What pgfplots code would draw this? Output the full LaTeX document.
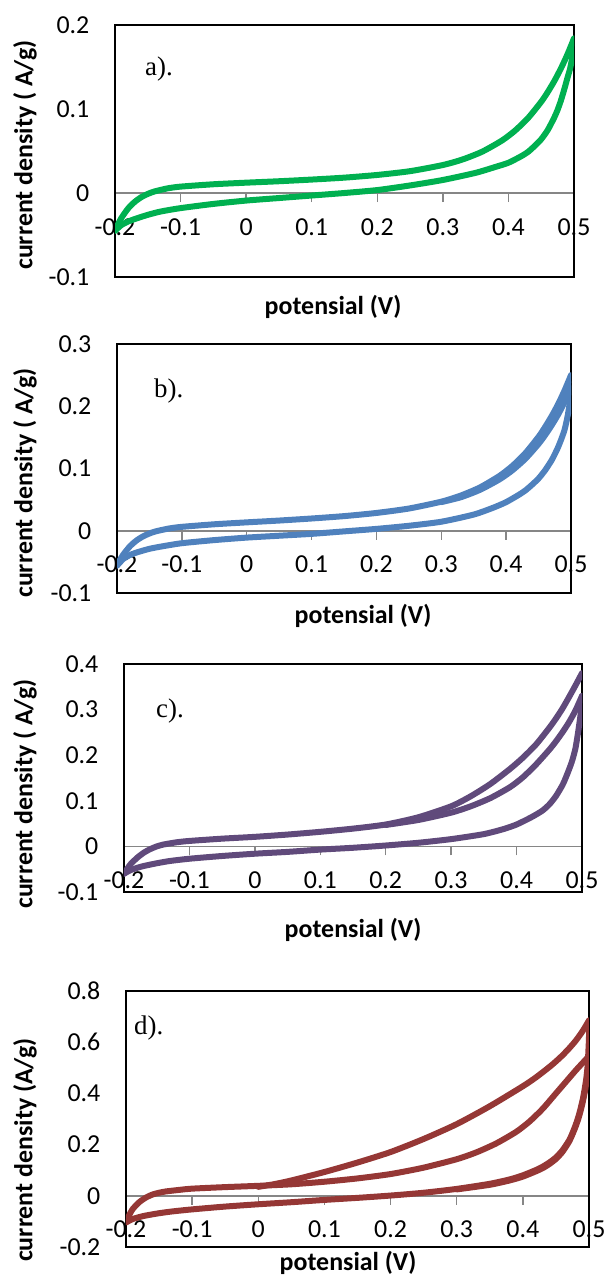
\documentclass[border=0pt]{standalone}
\usepackage{pgfplots}
\pgfplotsset{compat=1.18}
\usepackage{fontspec}
\setmainfont{Carlito}
\newfontfamily\tnr{Liberation Serif}
\definecolor{cA}{RGB}{0,176,80}
\definecolor{cB}{RGB}{79,129,189}
\definecolor{cC}{RGB}{96,74,123}
\definecolor{cD}{RGB}{149,55,53}
\definecolor{zl}{RGB}{134,134,134}
\newcommand{\lab}{\fontsize{26}{30}\selectfont\bfseries}
\pgfplotsset{
 base/.style={scale only axis, xmin=-0.2, xmax=0.5, anchor=south west,
   /pgf/number format/assume math mode=true,
   ticklabel style={font=\fontsize{26}{30}\selectfont}},
 zero/.style={base, axis x line=middle, axis y line=none,
   axis line style={-, zl, line width=1.5bp},
   xtick={-0.2,-0.1,0,0.1,0.2,0.3,0.4,0.5}, tick align=outside, major tick length=9bp,
   xtick style={zl, line width=1.3bp},
   xticklabel style={anchor=base, inner sep=0pt, yshift=-33bp},
   hide obscured x ticks=false, ytick=\empty},
 frame/.style={base, axis line style={black, line width=1.2bp}, xtick=\empty,
   major tick length=0pt, tick style={draw=none},
   yticklabel style={anchor=east, inner sep=0pt, xshift=-25.5bp}, clip=true},
 cv/.style={line width=6bp, line cap=round, line join=round, smooth, tension=0.4, no markers},
}
\begin{document}
\begin{tikzpicture}
\path[use as bounding box] (0,0) rectangle (607bp,-1276bp);
% ---------------- panel a
\begin{axis}[zero, at={(115bp,-277bp)}, width=459bp, height=252bp, ymin=-0.1, ymax=0.2]
\end{axis}
\begin{axis}[frame, at={(115bp,-277bp)}, width=459bp, height=252bp, ymin=-0.1, ymax=0.2, ytick={-0.1,0,0.1,0.2}]
\addplot[cv, cA] coordinates {(-0.2,-0.045) (-0.195,-0.0365) (-0.19,-0.0294) (-0.18,-0.0184) (-0.17,-0.0106) (-0.16,-0.0050) (-0.15,-0.0011) (-0.14,0.0018) (-0.12,0.0055) (-0.1,0.0076) (-0.05,0.0104) (0,0.0123) (0.05,0.0140) (0.1,0.0160) (0.15,0.0183) (0.2,0.0215) (0.25,0.0260) (0.3,0.0333) (0.33,0.0399) (0.36,0.0492) (0.39,0.0624) (0.41,0.0742) (0.43,0.0893) (0.45,0.1086) (0.46,0.1202) (0.47,0.1333) (0.48,0.1482) (0.49,0.1650) (0.5,0.184)};
\addplot[cv, cA] coordinates {(0.5,0.184) (0.499,0.172) (0.497,0.160) (0.494,0.148) (0.49,0.137) (0.485,0.123) (0.48,0.110) (0.475,0.099) (0.47,0.090) (0.46,0.075) (0.45,0.064) (0.44,0.056) (0.43,0.049) (0.42,0.044) (0.4,0.036) (0.38,0.031) (0.35,0.024) (0.3,0.0155) (0.25,0.009) (0.2,0.0035) (0.15,0.0) (0.1,-0.003) (0.05,-0.006) (0,-0.009) (-0.05,-0.013) (-0.1,-0.018) (-0.13,-0.022) (-0.15,-0.026) (-0.17,-0.031) (-0.18,-0.034) (-0.19,-0.038) (-0.2,-0.045)};
\end{axis}
\node[anchor=base west, inner sep=0pt, font=\tnr\fontsize{27}{27}\selectfont] at (145bp,-75bp) {a).};
\node[rotate=90, inner sep=0pt] at (25bp,-155bp) {\lab current density ( A/g)};
\node[anchor=base, inner sep=0pt] at (333bp,-314bp) {\lab potensial (V)};
% ---------------- panel b
\begin{axis}[zero, at={(117bp,-593bp)}, width=454bp, height=249bp, ymin=-0.1, ymax=0.3]
\end{axis}
\begin{axis}[frame, at={(117bp,-593bp)}, width=454bp, height=249bp, ymin=-0.1, ymax=0.3, ytick={-0.1,0,0.1,0.2,0.3}]
\addplot[cv, cB] coordinates {(-0.2,-0.056) (-0.195,-0.0461) (-0.19,-0.0378) (-0.18,-0.0249) (-0.17,-0.0157) (-0.16,-0.0091) (-0.15,-0.0044) (-0.14,-0.0009) (-0.12,0.0036) (-0.1,0.0063) (-0.05,0.0104) (0,0.0135) (0.05,0.0164) (0.1,0.0197) (0.15,0.0235) (0.2,0.0286) (0.25,0.0357) (0.3,0.0467) (0.33,0.0565) (0.36,0.0698) (0.39,0.0883) (0.41,0.1045) (0.43,0.1251) (0.45,0.1510) (0.46,0.1666) (0.47,0.1838) (0.48,0.2030) (0.49,0.2252) (0.5,0.250)};
\addplot[cv, cB] coordinates {(0.3,0.0460) (0.33,0.0538) (0.36,0.0659) (0.39,0.0827) (0.41,0.0974) (0.43,0.1160) (0.45,0.1395) (0.46,0.1535) (0.47,0.1691) (0.48,0.1864) (0.49,0.2065) (0.5,0.229)};
\addplot[cv, cB] coordinates {(0.5,0.235) (0.499,0.215) (0.497,0.198) (0.494,0.180) (0.49,0.162) (0.485,0.147) (0.48,0.134) (0.475,0.123) (0.47,0.113) (0.46,0.097) (0.45,0.084) (0.44,0.074) (0.43,0.065) (0.42,0.058) (0.4,0.046) (0.38,0.037) (0.35,0.026) (0.3,0.0145) (0.25,0.008) (0.2,0.003) (0.15,-0.001) (0.1,-0.005) (0.05,-0.008) (0,-0.011) (-0.05,-0.015) (-0.1,-0.020) (-0.13,-0.025) (-0.15,-0.029) (-0.17,-0.035) (-0.18,-0.039) (-0.19,-0.045) (-0.2,-0.056)};
\end{axis}
\node[anchor=base west, inner sep=0pt, font=\tnr\fontsize{27}{27}\selectfont] at (154bp,-397bp) {b).};
\node[rotate=90, inner sep=0pt] at (25bp,-483bp) {\lab current density ( A/g)};
\node[anchor=base, inner sep=0pt] at (363bp,-623bp) {\lab potensial (V)};
% ---------------- panel c
\begin{axis}[zero, at={(124bp,-892bp)}, width=458bp, height=228bp, ymin=-0.1, ymax=0.4]
\end{axis}
\begin{axis}[frame, at={(124bp,-892bp)}, width=458bp, height=228bp, ymin=-0.1, ymax=0.4, ytick={-0.1,0,0.1,0.2,0.3,0.4}]
\addplot[cv, cC] coordinates {(-0.2,-0.060) (-0.195,-0.049) (-0.19,-0.039) (-0.18,-0.025) (-0.17,-0.014) (-0.16,-0.006) (-0.15,0.000) (-0.14,0.004) (-0.12,0.009) (-0.1,0.012) (-0.05,0.017) (0,0.021) (0.05,0.026) (0.1,0.032) (0.15,0.039) (0.2,0.048) (0.25,0.064) (0.3,0.088) (0.33,0.110) (0.36,0.137) (0.39,0.170) (0.41,0.195) (0.43,0.224) (0.45,0.260) (0.46,0.280) (0.47,0.302) (0.48,0.327) (0.49,0.353) (0.5,0.380)};
\addplot[cv, cC] coordinates {(0.2,0.047) (0.25,0.058) (0.3,0.074) (0.33,0.088) (0.36,0.106) (0.39,0.130) (0.41,0.152) (0.43,0.180) (0.45,0.212) (0.46,0.230) (0.47,0.250) (0.48,0.272) (0.49,0.298) (0.5,0.330)};
\addplot[cv, cC] coordinates {(0.5,0.33) (0.499,0.305) (0.497,0.28) (0.494,0.25) (0.49,0.215) (0.485,0.188) (0.48,0.168) (0.475,0.150) (0.47,0.134) (0.46,0.110) (0.45,0.092) (0.44,0.079) (0.43,0.070) (0.42,0.062) (0.4,0.048) (0.38,0.038) (0.35,0.027) (0.3,0.016) (0.25,0.008) (0.2,0.002) (0.15,-0.003) (0.1,-0.007) (0.05,-0.012) (0,-0.016) (-0.05,-0.021) (-0.1,-0.027) (-0.13,-0.032) (-0.15,-0.037) (-0.17,-0.043) (-0.18,-0.047) (-0.19,-0.052) (-0.2,-0.060)};
\end{axis}
\node[anchor=base west, inner sep=0pt, font=\tnr\fontsize{27}{27}\selectfont] at (156bp,-717bp) {c).};
\node[rotate=90, inner sep=0pt] at (25bp,-794bp) {\lab current density ( A/g)};
\node[anchor=base, inner sep=0pt] at (353bp,-937bp) {\lab potensial (V)};
% ---------------- panel d
\begin{axis}[zero, at={(126bp,-1247bp)}, width=463bp, height=256bp, ymin=-0.2, ymax=0.8]
\end{axis}
\begin{axis}[frame, at={(126bp,-1247bp)}, width=463bp, height=256bp, ymin=-0.2, ymax=0.8, ytick={-0.2,0,0.2,0.4,0.6,0.8}]
\addplot[cv, cD] coordinates {(0,0.035) (0.025,0.046) (0.05,0.060) (0.1,0.093) (0.15,0.130) (0.2,0.171) (0.25,0.222) (0.3,0.280) (0.35,0.350) (0.4,0.428) (0.42,0.463) (0.44,0.503) (0.45,0.525) (0.46,0.549) (0.47,0.576) (0.48,0.606) (0.49,0.642) (0.5,0.685)};
\addplot[cv, cD] coordinates {(0.5,0.685) (0.5,0.62) (0.499,0.56) (0.498,0.51) (0.496,0.46) (0.493,0.41) (0.49,0.370) (0.485,0.318) (0.48,0.278) (0.475,0.245) (0.47,0.217) (0.46,0.178) (0.45,0.150) (0.44,0.130) (0.43,0.114) (0.42,0.101) (0.4,0.080) (0.38,0.064) (0.35,0.047) (0.3,0.027) (0.25,0.012) (0.2,0.001) (0.15,-0.008) (0.1,-0.016) (0.05,-0.025) (0,-0.033) (-0.05,-0.042) (-0.1,-0.053) (-0.13,-0.061) (-0.15,-0.068) (-0.17,-0.077) (-0.18,-0.083) (-0.19,-0.091) (-0.2,-0.104)};
\addplot[cv, cD] coordinates {(-0.2,-0.104) (-0.195,-0.075) (-0.19,-0.052) (-0.18,-0.025) (-0.17,-0.007) (-0.16,0.005) (-0.15,0.012) (-0.14,0.017) (-0.12,0.023) (-0.1,0.028) (-0.05,0.034) (0,0.039) (0.05,0.045) (0.1,0.055) (0.15,0.068) (0.2,0.085) (0.25,0.110) (0.3,0.143) (0.33,0.170) (0.36,0.205) (0.39,0.250) (0.41,0.290) (0.43,0.340) (0.45,0.400) (0.46,0.430) (0.47,0.460) (0.48,0.490) (0.49,0.518) (0.5,0.546)};
\addplot[cv, cD] coordinates {(0.5,0.546) (0.499,0.51) (0.497,0.46) (0.494,0.41) (0.49,0.36) (0.485,0.31) (0.48,0.272) (0.475,0.240) (0.47,0.212) (0.46,0.172) (0.45,0.144) (0.44,0.124) (0.43,0.108) (0.42,0.096) (0.4,0.075) (0.38,0.060) (0.35,0.043) (0.3,0.025)};
\end{axis}
\node[anchor=base west, inner sep=0pt, font=\tnr\fontsize{27}{27}\selectfont] at (134bp,-1034bp) {d).};
\node[rotate=90, inner sep=0pt] at (25bp,-1150bp) {\lab current density (A/g)};
\node[anchor=base, inner sep=0pt] at (348bp,-1270bp) {\lab potensial (V)};
\end{tikzpicture}
\end{document}
